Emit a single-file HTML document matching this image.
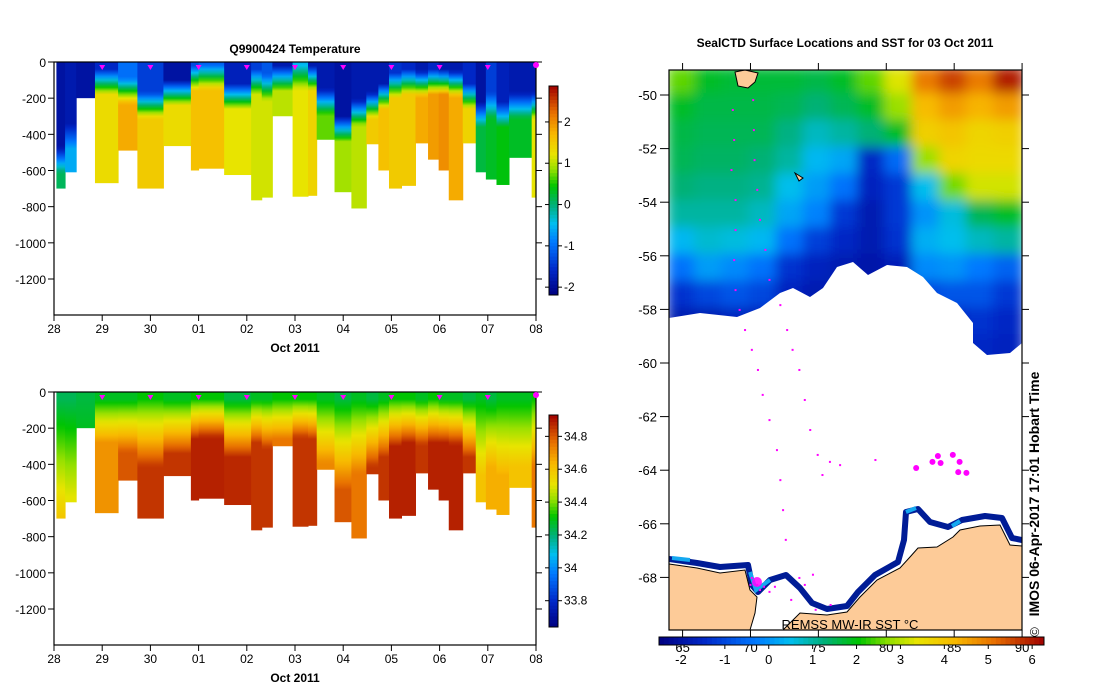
<!DOCTYPE html>
<html><head><meta charset="utf-8">
<style>
html,body{margin:0;padding:0;background:#fff;}
svg{display:block;font-family:"Liberation Sans",sans-serif;}
.t{font-size:12px;fill:#000}
.b{font-weight:bold}
</style></head>
<body>
<svg id="root" width="1099" height="700" viewBox="0 0 1099 700">
<defs>
<clipPath id="mapclip"><rect x="669" y="70" width="353" height="560"/></clipPath>
<filter id="blur" x="-5%" y="-5%" width="110%" height="110%"><feGaussianBlur stdDeviation="6"/></filter>
</defs>
<g id="tempPanel"></g>
<g id="salPanel"></g>
<g id="mapPanel"></g>
</svg>
<script>
// ---------- profile data ----------
const profileStart = [0.05,0.23,0.46,0.85,1.33,1.73,2.27,2.84,3.0,3.53,4.09,4.31,4.53,4.95,5.27,5.45,5.82,6.17,6.48,6.73,6.95,7.21,7.5,7.76,7.98,8.19,8.48,8.75,8.96,9.18,9.44,9.91];
const profileDepth = [700,610,200,670,490,700,465,600,590,625,765,750,300,745,740,430,720,810,455,600,700,685,450,540,600,765,450,610,650,680,530,750];
const thermoDepth  = [550,420,400,120,170,250,180,100,90,200,120,150,100,90,100,230,380,290,250,200,140,120,130,120,120,130,200,300,250,300,250,250];
const surfTemp     = [-1.9,-1.8,-1.9,-1.6,-1.0,-1.4,-1.9,-1.3,-1.2,-1.7,-1.4,-1.2,-1.8,-0.6,-1.8,-1.8,-1.9,-1.8,-1.8,-1.8,-1.5,-1.6,-1.8,-1.6,-1.8,-1.8,-1.6,-1.9,-1.4,-1.7,-1.8,-1.8];
const deepTemp     = [0.1,-0.6,-1.8,1.3,1.8,1.5,1.3,1.6,1.6,1.2,1.1,1.1,1.0,1.2,1.4,0.7,0.9,1.0,1.5,1.6,1.5,1.5,1.8,1.9,2.0,1.8,1.4,0.2,0.3,0.4,0.3,1.2];
const surfSal      = [34.23,34.23,34.25,34.28,34.28,34.31,34.28,34.31,34.31,34.25,34.28,34.28,34.31,34.31,34.31,34.28,34.25,34.28,34.25,34.28,34.31,34.31,34.28,34.31,34.28,34.28,34.25,34.28,34.25,34.28,34.28,34.31];
const deepSal      = [34.6,34.5,34.35,34.7,34.8,34.85,34.85,34.88,34.88,34.87,34.85,34.85,34.75,34.85,34.85,34.72,34.8,34.75,34.85,34.85,34.88,34.88,34.85,34.88,34.88,34.88,34.85,34.6,34.65,34.65,34.6,34.75];
const dayLabels = ["28","29","30","01","02","03","04","05","06","07","08"];
const depthTicks = [0,-200,-400,-600,-800,-1000,-1200];
const tempTicks = [-2,-1,0,1,2];
const salTicks = [33.8,34,34.2,34.4,34.6,34.8];

// ---------- map data ----------
const gridLats = [-49.5,-50.5,-51.5,-52.5,-53.5,-54.5,-55.5,-56.5,-57.5,-58.5,-59.5,-60.5];
const gridLons = [65,67,69,71,73,75,77,79,81,83,85,87,89];
const sstGrid = [
 [2.5,1.8,1.7,1.7,1.7,1.6,1.8,2.5,3.3,5.0,5.6,5.0,6.0],
 [1.8,1.6,1.6,1.6,1.5,1.3,1.5,1.8,2.8,4.2,4.6,4.3,4.6],
 [1.6,1.5,1.5,1.5,1.2,0.8,1.0,1.3,1.8,3.8,4.0,3.7,3.8],
 [1.5,1.4,1.4,1.3,1.0,0.4,0.2,-1.5,-0.5,2.8,3.7,3.6,3.6],
 [1.3,1.2,1.2,1.1,0.5,0.1,-0.4,-1.6,-1.2,0.5,2.6,3.2,3.2],
 [1.0,1.0,1.0,0.8,0.2,-0.2,-1.2,-1.8,-1.2,0.0,0.6,1.5,1.8],
 [0.4,0.7,0.6,0.4,-0.4,-1.1,-1.5,-1.8,-1.3,0.3,0.5,0.8,1.0],
 [-0.4,0.1,-0.1,-0.4,-1.3,-1.6,-1.8,-1.9,-1.7,-0.1,0.0,-0.3,-0.6],
 [-1.3,-1.0,-0.8,-1.0,-1.6,-1.8,-1.8,-1.8,-1.7,-1.0,-0.8,-0.8,-1.2],
 [-1.8,-1.8,-1.6,-1.7,-1.8,-1.8,-1.8,-1.8,-1.8,-1.6,-1.5,-1.3,-1.5],
 [-1.9,-1.9,-1.8,-1.8,-1.9,-1.9,-1.9,-1.9,-1.9,-1.8,-1.7,-1.5,-1.6],
 [-1.9,-1.9,-1.8,-1.8,-1.9,-1.9,-1.9,-1.9,-1.9,-1.8,-1.8,-1.7,-1.7]];
const latTicks = [-50,-52,-54,-56,-58,-60,-62,-64,-66,-68];
const lonTicks = [65,70,75,80,85,90];
const sstTicks = [-2,-1,0,1,2,3,4,5,6];
const dotLon = [68.7,68.8,68.6,68.9,68.9,68.8,68.9,69.2,69.6,70.1,70.55,70.9,71.4,71.95,72.2,72.4,72.6,70.2,70.25,70.3,70.5,70.7,71.1,71.4,72.2,72.7,73.1,73.6,74.0,74.4,74.95,75.3,75.85,76.6,79.2,70.1,70.5,70.7,70.0,71.0,71.4,71.8,73.6,74.0,73.0,74.8,75.9,74.6];
const dotLat = [-50.56,-51.68,-52.8,-53.92,-55.04,-56.16,-57.28,-58.02,-58.77,-59.51,-60.26,-61.19,-62.13,-63.25,-64.37,-65.49,-66.6,-50.19,-51.31,-52.43,-53.54,-54.66,-55.78,-56.9,-57.84,-58.77,-59.51,-60.26,-61.38,-62.5,-63.43,-64.18,-63.69,-63.81,-63.62,-68.02,-68.28,-68.47,-68.28,-68.35,-68.54,-68.35,-68.02,-68.28,-68.84,-69.21,-69.03,-67.9];
const bigLon = [82.2,83.4,84.0,83.8,84.9,85.4,85.9,85.3];
const bigLat = [-63.92,-63.69,-63.73,-63.47,-63.43,-63.69,-64.10,-64.07];

// ---------- helpers ----------
const NS="http://www.w3.org/2000/svg";
function mk(tag,attrs,parent){const e=document.createElementNS(NS,tag);for(const k in attrs)e.setAttribute(k,attrs[k]);parent.appendChild(e);return e;}
const stops=[[0,[0,0,128]],[0.12,[0,40,200]],[0.25,[0,120,255]],[0.34,[0,190,240]],[0.43,[0,176,120]],[0.52,[0,196,0]],[0.6,[150,224,0]],[0.67,[232,228,0]],[0.77,[248,184,0]],[0.87,[232,112,0]],[1,[160,0,0]]];
function cmap(t){t=Math.max(0,Math.min(1,t));for(let i=1;i<stops.length;i++){if(t<=stops[i][0]){const a=stops[i-1],b=stops[i];const f=(t-a[0])/(b[0]-a[0]);const c=a[1].map((v,j)=>Math.round(v+(b[1][j]-v)*f));return `rgb(${c[0]},${c[1]},${c[2]})`;}}return "rgb(160,0,0)";}
function lerp(a,b,f){return a+(b-a)*Math.max(0,Math.min(1,f));}

function section(panel,top,valFn,vmin,vmax,ticks,cbTop,cbBot,title,idp,fmt){
  const x0=54,x1=536,y1=top+253;
  const xs=d=>x0+d*(x1-x0)/10;
  const ys=z=>top+(-z)*(217/1200);
  const defs=mk('defs',{},panel);
  for(let i=0;i<profileStart.length;i++){
    const end=i<profileStart.length-1?profileStart[i+1]:10;
    const gid=idp+'g'+i;
    const g=mk('linearGradient',{id:gid,x1:0,y1:0,x2:0,y2:1},defs);
    for(let d=0;d<=profileDepth[i];d+=20){mk('stop',{offset:d/profileDepth[i],'stop-color':cmap((valFn(i,d)-vmin)/(vmax-vmin))},g);}
    const r=mk('rect',{x:xs(profileStart[i]),y:top,width:xs(end)-xs(profileStart[i])+0.5,height:ys(-profileDepth[i])-top,fill:`url(#${gid})`},panel);
    
    
  }
  const fr=mk('rect',{x:x0,y:top,width:x1-x0,height:y1-top,fill:'none',stroke:'#000','stroke-width':1.2},panel);
  
  depthTicks.forEach(z=>{const y=ys(z);mk('line',{x1:x0-6,x2:x0,y1:y,y2:y,stroke:'#000'},panel);mk('line',{x1:x1,x2:x1+6,y1:y,y2:y,stroke:'#000'},panel);
    const t=mk('text',{x:x0-8,y:y+5,'text-anchor':'end',class:'t'},panel);t.textContent=z;});
  dayLabels.forEach((l,i)=>{const x=xs(i);mk('line',{x1:x,x2:x,y1:y1,y2:y1+6,stroke:'#000'},panel);
    const t=mk('text',{x:x,y:y1+18,'text-anchor':'middle',class:'t'},panel);t.textContent=l;
    if(i>0&&i<10){const m=mk('path',{d:`M${x-3},${top+3}L${x+3},${top+3}L${x},${top+8}Z`,fill:'#ff00ff'},panel);}});
  mk('circle',{cx:xs(10),cy:top+3,r:3,fill:'#ff00ff'},panel);
  const xt=mk('text',{x:295,y:y1+37,'text-anchor':'middle',class:'t b'},panel);xt.textContent='Oct 2011';
  if(title){const tt=mk('text',{x:295,y:top-9,'text-anchor':'middle',class:'t b'},panel);tt.textContent=title;}
  const cb=mk('g',{},panel);
  const n=60,h=(cbBot-cbTop)/n;
  for(let k=0;k<n;k++){mk('rect',{x:549,y:cbTop+k*h,width:9,height:h+0.5,fill:cmap(1-(k+0.5)/n)},cb);}
  mk('rect',{x:549,y:cbTop,width:9,height:cbBot-cbTop,fill:'none',stroke:'#000'},cb);
  ticks.forEach(v=>{const y=cbBot-(v-vmin)/(vmax-vmin)*(cbBot-cbTop);mk('line',{x1:558,x2:562,y1:y,y2:y,stroke:'#000'},cb);mk('line',{x1:545,x2:549,y1:y,y2:y,stroke:'#000'},cb);
    const t=mk('text',{x:564,y:y+4,class:'t'},cb);t.textContent=fmt(v);});
}
function tempAt(i,d){const th=thermoDepth[i];return lerp(surfTemp[i],deepTemp[i],(d-(th-80))/140);}
function salAt(i,d){const th=thermoDepth[i];return lerp(surfSal[i],deepSal[i],(d-40)/(th+160-40));}
section(document.getElementById('tempPanel'),62,tempAt,-2.19,2.87,tempTicks,86,295,'Q9900424  Temperature','T',v=>String(v));
section(document.getElementById('salPanel'),392,salAt,33.64,34.93,salTicks,415,627,'','S',v=>String(v));

// ---------- map ----------
const mp=document.getElementById('mapPanel');
const lx=lon=>669+(lon-64)*13.58;
const ly=lat=>95+(-50-lat)*26.8;
const smin=-2.5,smax=6.27;
const mt=mk('text',{x:845,y:47,'text-anchor':'middle',class:'t b'},mp);mt.textContent='SealCTD Surface Locations and SST for 03 Oct 2011';
const clipG=mk('g',{'clip-path':'url(#mapclip)'},mp);
const sg=mk('g',{filter:'url(#blur)'},clipG);
gridLats.forEach((lat,r)=>gridLons.forEach((lon,c)=>{mk('rect',{x:lx(lon-1)-2,y:ly(lat+0.5)-2,width:lx(lon+1)-lx(lon-1)+4,height:ly(lat-0.5)-ly(lat+0.5)+4,fill:cmap((sstGrid[r][c]-smin)/(smax-smin))},sg);}));
const ice=mk('path',{d:'M669,318 L700,313 L737,317 L760,308 L780,293 L793,288 L810,297 L823,288 L837,267 L853,262 L868,275 L887,265 L907,267 L923,277 L937,293 L957,303 L973,323 L973,343 L987,355 L1010,353 L1022,343 L1022,640 L669,640 Z',fill:'#fff'},clipG);

const band=mk('path',{d:'M669,559 L697,563 L720,567 L748,565 L752,585 L758,592 L770,580 L786,575 L800,588 L812,603 L827,609 L847,606 L858,592 L875,575 L898,562 L904,540 L906,512 L918,509 L930,522 L948,527 L962,520 L985,516 L1002,518 L1012,538 L1022,540',fill:'none',stroke:'#001c96','stroke-width':6,'stroke-linejoin':'round'},clipG);

mk('path',{d:'M672,558 L690,560 M750,572 L756,590 L770,580 M906,512 L916,508 M952,526 L960,521',fill:'none',stroke:'#14a8f0','stroke-width':4},clipG);
const land1=mk('path',{d:'M669,564 L697,568 L720,573 L745,570 L750,590 L757,597 L755,613 L750,630 L669,630 Z',fill:'#fdcb98',stroke:'#000','stroke-width':1},clipG);

const land2=mk('path',{d:'M783,630 L800,613 L827,615 L847,612 L860,597 L877,580 L900,568 L910,557 L918,548 L937,547 L953,537 L960,530 L980,526 L1000,525 L1010,545 L1022,546 L1022,630 Z',fill:'#fdcb98',stroke:'#000','stroke-width':1},clipG);

const isl=mk('path',{d:'M735,72 L745,70 L758,73 L755,82 L748,88 L738,86 Z',fill:'#fdcb98',stroke:'#000'},clipG);

const ship=mk('path',{d:'M795,173 L803,178 L799,181 Z',fill:'#fdcb98',stroke:'#000'},clipG);

for(let i=0;i<dotLon.length;i++){const d=mk('rect',{x:lx(dotLon[i])-1,y:ly(dotLat[i])-1,width:2,height:2,fill:'#ff00ff'},clipG);
  
  }
for(let i=0;i<bigLon.length;i++){const d=mk('circle',{cx:lx(bigLon[i]),cy:ly(bigLat[i]),r:3,fill:'#ff00ff'},clipG);
  
  }
mk('circle',{cx:757,cy:582,r:5,fill:'#ff00ff',opacity:0.85},clipG);
const src=mk('text',{x:850,y:629,'text-anchor':'middle','font-size':'13px',fill:'#000'},mp);src.textContent='REMSS MW-IR SST °C';
mk('rect',{x:669,y:70,width:353,height:560,fill:'none',stroke:'#000','stroke-width':1.2},mp);
latTicks.forEach(l=>{const y=ly(l);mk('line',{x1:660,x2:669,y1:y,y2:y,stroke:'#000'},mp);mk('line',{x1:1022,x2:1029,y1:y,y2:y,stroke:'#000'},mp);
  const t=mk('text',{x:657,y:y+5,'text-anchor':'end','font-size':'13px'},mp);t.textContent=l;});
lonTicks.forEach(l=>{const x=lx(l);mk('line',{x1:x,x2:x,y1:63,y2:70,stroke:'#000'},mp);mk('line',{x1:x,x2:x,y1:630,y2:637,stroke:'#000'},mp);
  const t=mk('text',{x:x,y:652,'text-anchor':'middle','font-size':'13px'},mp);t.textContent=l;});
const scb=mk('g',{},mp);
for(let k=0;k<80;k++){mk('rect',{x:659+k*385/80,y:637,width:385/80+0.5,height:8,fill:cmap((k+0.5)/80)},scb);}
mk('rect',{x:659,y:637,width:385,height:8,fill:'none',stroke:'#000'},scb);
sstTicks.forEach(v=>{const x=659+(v-smin)/(smax-smin)*385;mk('line',{x1:x,x2:x,y1:645,y2:649,stroke:'#000'},scb);
  const t=mk('text',{x:x,y:664,'text-anchor':'middle','font-size':'13px'},scb);t.textContent=v;});
const imos=mk('text',{x:0,y:0,transform:'translate(1039,494) rotate(-90)','text-anchor':'middle','font-size':'14px','font-weight':'bold'},mp);imos.textContent='IMOS 06-Apr-2017 17:01 Hobart Time';
const cp=mk('text',{x:0,y:0,transform:'translate(1039,632) rotate(-90)','text-anchor':'middle','font-size':'13px'},mp);cp.textContent='©';
</script>
</body></html>
